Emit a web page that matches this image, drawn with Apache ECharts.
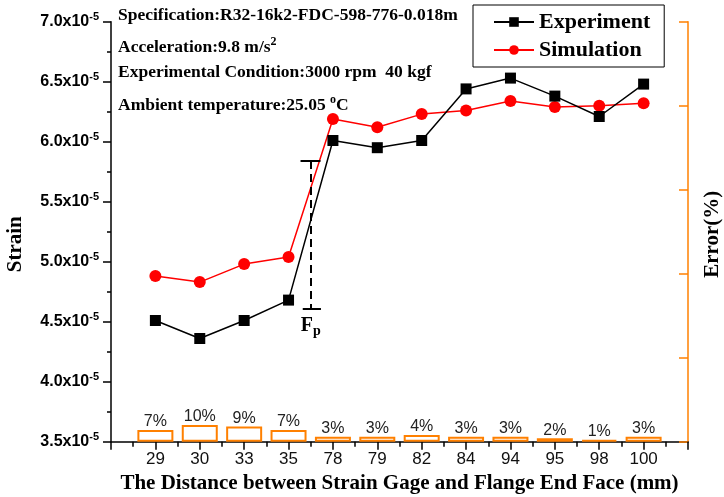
<!DOCTYPE html>
<html>
<head>
<meta charset="utf-8">
<script src="https://cdn.jsdelivr.net/npm/echarts@6/dist/echarts.min.js"></script>
<style>
  html, body { margin: 0; padding: 0; background: #fff; }
  #chart { width: 724px; height: 497px; }
</style>
</head>
<body>
<div id="chart"></div>
<script>
// distances of strain gages from flange end face (mm)
const distances = ['29', '30', '33', '35', '78', '79', '82', '84', '94', '95', '98', '100'];
// strain, in units of 1e-5
const experiment = [4.51, 4.36, 4.51, 4.68, 6.01, 5.95, 6.01, 6.44, 6.53, 6.38, 6.21, 6.48];
const simulation = [4.88, 4.83, 4.98, 5.04, 6.19, 6.12, 6.23, 6.26, 6.34, 6.29, 6.30, 6.32];
// relative error (%)
const errors = [7, 10, 9, 7, 3, 3, 4, 3, 3, 2, 1, 3];
// Fp marker, between 35 and 78
const fpPos = 4.5;
const fpTop = 5.84;
const fpBottom = 4.61;

const serif = '"Liberation Serif", "DejaVu Serif", serif';
const sans = '"Liberation Sans", Arial, sans-serif';
const orange = '#FF8000';

const chart = echarts.init(document.getElementById('chart'));

const infoLines = [
  { y: 16, text: 'Specification:R32-16k2-FDC-598-776-0.018m' },
  { y: 46, text: 'Acceleration:9.8 m/s{s|2}' },
  { y: 73, text: 'Experimental Condition:3000 rpm  40 kgf' },
  { y: 104, text: 'Ambient temperature:25.05 {s|o}C' }
];

const option = {
  animation: false,
  grid: { left: 111, right: 36, top: 21.7, bottom: 55.3, outerBoundsMode: 'none' },
  legend: {
    data: ['Experiment', 'Simulation'],
    orient: 'vertical',
    left: 473,
    top: 5,
    itemWidth: 40,
    itemHeight: 12,
    itemGap: 6,
    padding: [6, 14, 6, 20],
    borderColor: '#000',
    borderWidth: 1,
    backgroundColor: '#fff',
    textStyle: { fontFamily: serif, fontWeight: 'bold', fontSize: 22, color: '#000' }
  },
  xAxis: {
    type: 'value',
    min: 0,
    max: 13,
    interval: 1,
    name: 'The Distance between Strain Gage and Flange End Face (mm)',
    nameLocation: 'middle',
    nameGap: 30,
    nameTextStyle: { fontFamily: serif, fontWeight: 'bold', fontSize: 21, color: '#000' },
    axisLine: { onZero: false, lineStyle: { color: '#000', width: 1.5 } },
    axisTick: { length: 8, lineStyle: { color: '#000', width: 1.5 } },
    minorTick: { show: true, splitNumber: 2, length: 5, lineStyle: { color: '#000', width: 1.5 } },
    splitLine: { show: false },
    axisLabel: {
      margin: 9,
      fontFamily: sans,
      fontSize: 17,
      color: '#111',
      formatter: v => distances[v - 1] || ''
    }
  },
  yAxis: [
    {
      type: 'value',
      min: 3.5,
      max: 7.0,
      interval: 0.5,
      name: 'Strain',
      nameLocation: 'middle',
      nameGap: 85,
      nameRotate: 90,
      nameTextStyle: { fontFamily: serif, fontWeight: 'bold', fontSize: 21, color: '#000', padding: [0, 0, 0, -25] },
      axisLine: { show: true, lineStyle: { color: '#000', width: 1.5 } },
      axisTick: { length: 8, lineStyle: { color: '#000', width: 1.5 } },
      minorTick: { show: true, splitNumber: 2, length: 4, lineStyle: { color: '#000', width: 1.5 } },
      splitLine: { show: false },
      axisLabel: {
        margin: 12,
        formatter: v => '{a|' + v.toFixed(1) + 'x10}{s|-5}',
        rich: {
          a: { fontFamily: sans, fontWeight: 'bold', fontSize: 16, color: '#000' },
          s: { fontFamily: sans, fontWeight: 'bold', fontSize: 11, color: '#000', padding: [0, 0, 9, 0] }
        }
      }
    },
    {
      type: 'value',
      position: 'right',
      min: 0,
      max: 250,
      interval: 50,
      name: 'Error(%)',
      nameLocation: 'middle',
      nameGap: 14,
      nameRotate: 90,
      nameTextStyle: { fontFamily: serif, fontWeight: 'bold', fontSize: 21, color: '#000', padding: [0, 0, 0, -5] },
      axisLine: { show: true, lineStyle: { color: orange, width: 1.5 } },
      axisTick: { inside: true, length: 9, lineStyle: { color: orange, width: 1.5 } },
      axisLabel: { show: false },
      splitLine: { show: false }
    }
  ],
  graphic: infoLines.map(l => ({
    type: 'text',
    left: 118,
    top: l.y - 10,
    style: {
      text: l.text,
      fontFamily: serif,
      fontWeight: 'bold',
      fontSize: 17.5,
      fill: '#000',
      rich: {
        s: { fontFamily: serif, fontWeight: 'bold', fontSize: 12, fill: '#000', padding: [0, 0, 10, 0] }
      }
    }
  })),
  series: [
    {
      name: 'Error',
      type: 'bar',
      yAxisIndex: 1,
      barWidth: 36,
      data: errors.map((e, i) => [i + 1, e]),
      itemStyle: { color: 'rgba(255,255,255,0)', borderColor: orange, borderWidth: 2 },
      label: {
        show: true,
        position: 'top',
        distance: 0,
        fontFamily: sans,
        fontSize: 16,
        color: '#222',
        formatter: p => p.value[1] + '%'
      },
      z: 1
    },
    {
      name: 'Experiment',
      type: 'line',
      data: experiment.map((v, i) => [i + 1, v]),
      symbol: 'rect',
      symbolSize: 11,
      itemStyle: { color: '#000' },
      lineStyle: { color: '#000', width: 1.5 },
      z: 3,
      markLine: {
        silent: true,
        symbol: ['none', 'none'],
        animation: false,
        data: [
          [
            { coord: [fpPos, fpTop], lineStyle: { type: [8, 5], width: 2, color: '#000' },
              label: {
                show: true,
                position: 'end',
                distance: 4,
                formatter: '{f|F}{p|p}',
                rich: {
                  f: { fontFamily: serif, fontWeight: 'bold', fontSize: 20, color: '#000' },
                  p: { fontFamily: serif, fontWeight: 'bold', fontSize: 14, color: '#000', padding: [12, 0, 0, 0] }
                }
              } },
            { coord: [fpPos, fpBottom] }
          ],
          [
            { coord: [fpPos - 0.23, fpTop], lineStyle: { type: 'solid', width: 2, color: '#000' }, label: { show: false } },
            { coord: [fpPos + 0.22, fpTop] }
          ],
          [
            { coord: [fpPos - 0.18, fpBottom], lineStyle: { type: 'solid', width: 2, color: '#000' }, label: { show: false } },
            { coord: [fpPos + 0.23, fpBottom] }
          ]
        ]
      }
    },
    {
      name: 'Simulation',
      type: 'line',
      data: simulation.map((v, i) => [i + 1, v]),
      symbol: 'circle',
      symbolSize: 12,
      itemStyle: { color: '#FF0000' },
      lineStyle: { color: '#FF0000', width: 1.5 },
      z: 2
    }
  ]
};

chart.setOption(option);
</script>
</body>
</html>
